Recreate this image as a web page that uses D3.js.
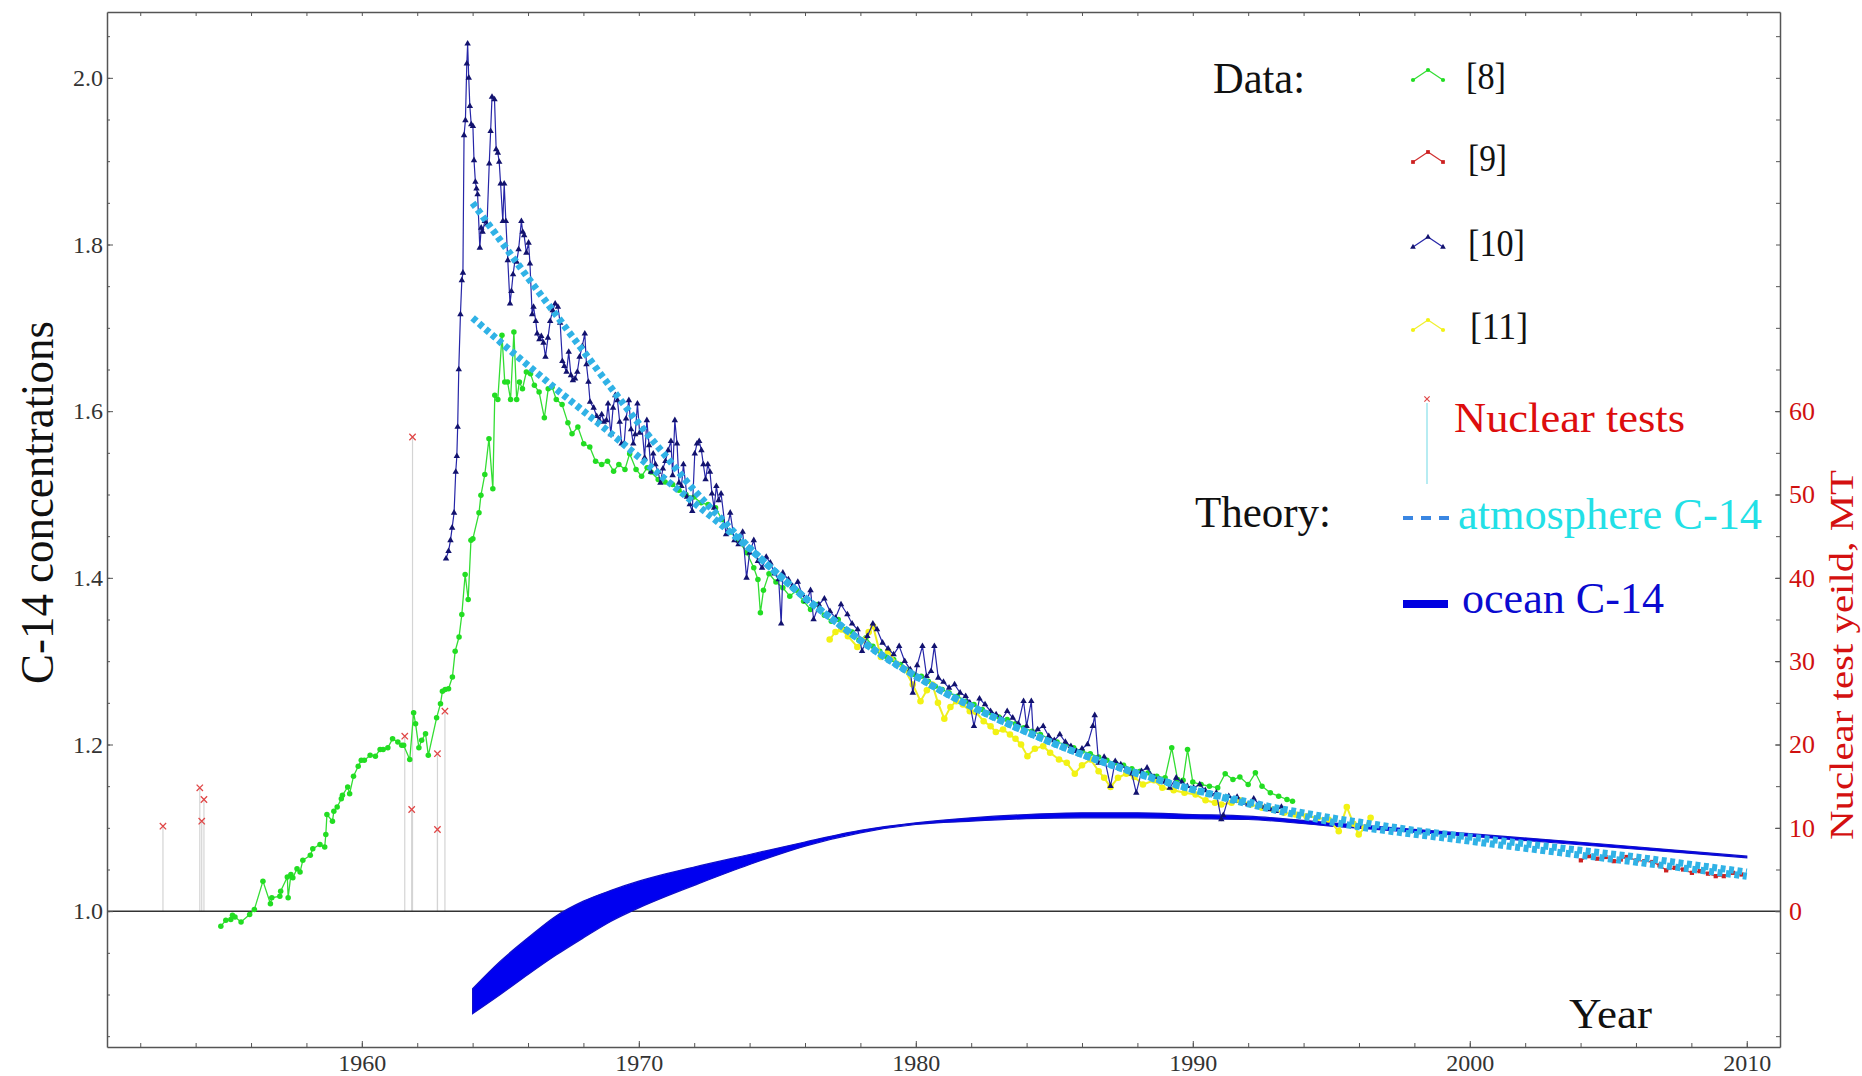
<!DOCTYPE html>
<html>
<head>
<meta charset="utf-8">
<script src="https://cdn.jsdelivr.net/npm/d3@7"></script>
<style>
  body { margin: 0; background: #fff; }
  svg { display: block; font-family: "Liberation Serif", "Times New Roman", serif; }
</style>
</head>
<body>
<div id="chart"></div>
<script>
const WIDTH = 1862, HEIGHT = 1076;
const PLOT = {left: 107, right: 1780, top: 12, bottom: 1047};

// ---- data [8] (green) ----
const greenYears = [1954.91,1955.09,1955.27,1955.33,1955.42,1955.64,1955.95,1956.12,1956.43,1956.70,1956.75,1957.04,1957.07,1957.31,1957.34,1957.44,1957.51,1957.66,1957.77,1957.87,1958.14,1958.23,1958.49,1958.66,1958.70,1958.74,1958.94,1958.99,1959.11,1959.26,1959.30,1959.49,1959.56,1959.70,1959.87,1959.98,1960.09,1960.30,1960.49,1960.66,1960.77,1960.94,1961.11,1961.30,1961.44,1961.51,1961.73,1961.87,1961.94,1962.06,1962.16,1962.30,1962.40,1962.70,1962.84,1962.91,1963.01,1963.13,1963.27,1963.37,1963.51,1963.61,1963.73,1963.84,1963.94,
  1964.01,1964.23,1964.30,1964.44,1964.59,1964.73,1964.80,1964.91,1965.06,1965.16,1965.26,1965.37,1965.49,1965.59,1965.69,1965.80,1965.94,1966.09,1966.23,1966.40,1966.59,1966.73,1966.87,1967.02,1967.23,1967.44,1967.59,1967.80,1968.01,1968.23,1968.44,1968.66,1968.87,1969.09,
  1969.28,1969.50,1969.67,1969.90,1970.10,1970.30,1970.44,1970.70,1970.95,1971.22,1971.45,1971.70,1971.99,1972.25,1972.50,1972.77,1973.00,1973.30,1973.60,1973.90,1974.15,1974.30,1974.39,1974.50,1974.70,1974.95,1975.20,1975.45,1975.70,1975.95,1976.20,1976.45,1976.70,1976.95,1977.20,1977.45,1977.70,1977.95,1978.20,1978.45,1978.70,1978.95,1979.20,1979.45,1979.70,1979.95,1980.20,1980.45,1980.70,1980.95,1981.20,1981.50,1981.80,1982.10,1982.40,1982.70,1983.00,1983.30,1983.60,1983.90,1984.20,1984.50,1984.80,1985.10,1985.40,1985.70,1986.00,1986.30,1986.60,1986.90,1987.20,1987.50,1987.80,1988.10,1988.40,1988.70,1989.00,1989.24,1989.45,1989.65,1989.81,1990.00,1990.30,1990.60,1990.90,1991.17,1991.45,1991.70,1992.00,1992.26,1992.50,1992.80,1993.10,1993.40,1993.60];
const greenValues = [0.982,0.989,0.990,0.995,0.993,0.987,0.996,1.002,1.036,1.009,1.016,1.018,1.024,1.041,1.016,1.044,1.040,1.051,1.047,1.061,1.067,1.075,1.080,1.077,1.092,1.116,1.108,1.120,1.125,1.135,1.139,1.149,1.141,1.162,1.174,1.181,1.181,1.187,1.186,1.194,1.194,1.196,1.207,1.203,1.199,1.199,1.182,1.238,1.225,1.196,1.205,1.213,1.187,1.232,1.249,1.264,1.266,1.267,1.281,1.312,1.329,1.356,1.404,1.374,1.445,
  1.447,1.478,1.499,1.524,1.567,1.507,1.619,1.614,1.691,1.635,1.635,1.614,1.695,1.614,1.635,1.627,1.647,1.645,1.631,1.623,1.592,1.627,1.629,1.614,1.608,1.586,1.573,1.581,1.561,1.557,1.540,1.536,1.540,1.528,
  1.536,1.530,1.549,1.530,1.522,1.532,1.527,1.518,1.515,1.512,1.505,1.500,1.497,1.490,1.488,1.484,1.470,1.455,1.445,1.430,1.412,1.398,1.358,1.385,1.405,1.395,1.388,1.378,1.385,1.372,1.362,1.368,1.355,1.348,1.350,1.338,1.335,1.325,1.328,1.318,1.312,1.305,1.302,1.296,1.290,1.284,1.282,1.276,1.270,1.266,1.262,1.258,1.252,1.248,1.242,1.238,1.233,1.230,1.225,1.220,1.216,1.212,1.207,1.203,1.200,1.196,1.192,1.189,1.185,1.181,1.178,1.175,1.171,1.168,1.166,1.162,1.160,1.196,1.158,1.157,1.194,1.155,1.152,1.150,1.148,1.165,1.158,1.161,1.152,1.166,1.150,1.142,1.138,1.134,1.132];

// ---- data [9] (red) ----
const redYears = [2004.01,2004.30,2004.60,2004.90,2005.20,2005.45,2005.66,2006.02,2006.30,2006.59,2006.85,2007.09,2007.40,2007.70,2008.02,2008.30,2008.60,2008.88,2009.17,2009.50,2009.81];
const redValues = [1.061,1.066,1.063,1.065,1.060,1.062,1.065,1.061,1.060,1.059,1.055,1.049,1.052,1.050,1.046,1.048,1.045,1.042,1.042,1.046,1.044];

// ---- data [10] (blue) ----
const blueYears = [1963.04,1963.13,1963.20,1963.26,1963.33,1963.39,1963.43,1963.46,1963.50,1963.56,1963.61,1963.65,1963.69,1963.74,1963.79,1963.82,1963.86,1963.90,1963.95,1964.01,1964.05,1964.10,1964.14,1964.18,1964.26,1964.31,1964.36,1964.44,1964.52,1964.60,1964.65,1964.70,1964.79,1964.85,1964.91,1964.96,1965.01,1965.09,1965.14,1965.20,1965.27,1965.35,1965.40,1965.46,1965.53,1965.59,1965.66,1965.76,1965.81,1965.86,1965.94,1966.02,1966.07,1966.15,1966.20,1966.28,1966.33,1966.41,1966.48,1966.56,1966.63,1966.72,1966.80,1966.89,1966.98,1967.08,1967.16,1967.24,1967.31,1967.39,1967.47,1967.55,1967.62,1967.70,1967.78,1967.86,1967.96,1968.05,1968.11,1968.18,1968.24,1968.37,1968.48,1968.57,1968.66,1968.74,1968.83,1968.89,1968.99,1969.07,1969.15,1969.23,1969.31,1969.38,1969.47,1969.54,1969.64,1969.72,1969.80,1969.87,1969.95,1970.03,1970.12,1970.21,1970.29,1970.37,1970.44,1970.52,1970.60,1970.70,1970.78,1970.87,1970.96,1971.06,1971.16,1971.22,1971.30,1971.38,1971.45,1971.54,1971.61,1971.74,1971.84,1971.93,1972.02,1972.10,1972.18,1972.26,1972.33,1972.41,1972.49,1972.57,1972.64,1972.72,1972.80,1972.88,1972.97,
  1973.15,1973.30,1973.45,1973.60,1973.75,1973.89,1974.00,1974.15,1974.30,1974.45,1974.60,1974.75,1974.90,1975.05,1975.14,1975.20,1975.40,1975.55,1975.74,1975.90,1976.05,1976.20,1976.31,1976.50,1976.70,1976.90,1977.10,1977.30,1977.53,1977.70,1977.90,1978.06,1978.25,1978.45,1978.60,1978.80,1979.00,1979.20,1979.40,1979.60,1979.80,1979.89,1980.05,1980.24,1980.39,1980.55,1980.67,1980.81,1981.00,1981.20,1981.40,1981.60,1981.80,1981.95,1982.10,1982.30,1982.50,1982.70,1982.90,1983.10,1983.30,1983.50,1983.70,1983.89,1984.00,1984.17,1984.24,1984.40,1984.60,1984.80,1985.00,1985.20,1985.40,1985.60,1985.80,1986.00,1986.20,1986.39,1986.46,1986.60,1986.80,1987.03,1987.20,1987.40,1987.60,1987.80,1987.96,1988.15,1988.35,1988.60,1988.80,1989.00,1989.17,1989.40,1989.60,1989.80,1990.03,1990.25,1990.45,1990.65,1990.85,1991.03,1991.10,1991.30,1991.50,1991.60,1991.80,1992.00,1992.20,1992.40,1992.60,1992.80,1993.00,1993.20];
const blueValues = [1.423,1.432,1.445,1.460,1.478,1.527,1.546,1.581,1.650,1.716,1.757,1.766,1.931,1.949,2.017,2.041,2.000,1.966,1.944,1.942,1.901,1.875,1.867,1.860,1.796,1.820,1.815,1.828,1.824,1.897,1.936,1.977,1.974,1.914,1.910,1.899,1.873,1.828,1.873,1.828,1.781,1.729,1.744,1.764,1.781,1.779,1.794,1.828,1.815,1.811,1.790,1.802,1.777,1.716,1.725,1.708,1.693,1.686,1.690,1.682,1.665,1.688,1.708,1.721,1.729,1.725,1.706,1.660,1.654,1.647,1.671,1.643,1.637,1.639,1.647,1.665,1.678,1.693,1.656,1.635,1.611,1.604,1.594,1.589,1.596,1.587,1.589,1.609,1.572,1.604,1.619,1.613,1.587,1.561,1.561,1.591,1.613,1.578,1.561,1.572,1.609,1.574,1.578,1.544,1.589,1.559,1.527,1.549,1.536,1.527,1.514,1.531,1.540,1.553,1.564,1.523,1.589,1.561,1.514,1.510,1.536,1.497,1.488,1.480,1.549,1.561,1.564,1.553,1.536,1.518,1.536,1.527,1.501,1.484,1.510,1.493,1.501,
  1.452,1.478,1.445,1.440,1.455,1.400,1.430,1.445,1.420,1.412,1.425,1.418,1.405,1.398,1.345,1.406,1.398,1.390,1.395,1.380,1.372,1.385,1.350,1.368,1.375,1.360,1.352,1.368,1.356,1.345,1.338,1.312,1.330,1.345,1.338,1.322,1.315,1.308,1.318,1.300,1.290,1.262,1.295,1.318,1.282,1.288,1.318,1.280,1.275,1.268,1.272,1.262,1.258,1.250,1.222,1.255,1.248,1.240,1.236,1.230,1.240,1.232,1.225,1.252,1.222,1.252,1.212,1.218,1.222,1.210,1.205,1.212,1.203,1.198,1.192,1.195,1.200,1.222,1.235,1.178,1.185,1.150,1.180,1.176,1.170,1.165,1.142,1.168,1.172,1.161,1.158,1.155,1.148,1.160,1.155,1.150,1.148,1.152,1.145,1.140,1.142,1.110,1.115,1.138,1.132,1.137,1.130,1.128,1.135,1.128,1.125,1.122,1.120,1.125];

// ---- data [11] (yellow) ----
const yellowYears = [1976.89,1977.10,1977.31,1977.55,1977.89,1978.10,1978.30,1978.46,1978.74,1979.00,1979.31,1979.60,1979.89,1980.17,1980.40,1980.60,1980.80,1981.03,1981.25,1981.46,1981.70,1981.95,1982.17,1982.45,1982.70,1982.89,1983.15,1983.40,1983.60,1983.80,1984.03,1984.30,1984.60,1984.85,1985.17,1985.45,1985.74,1986.00,1986.31,1986.60,1986.80,1987.03,1987.30,1987.60,1987.89,1988.20,1988.60,1988.90,1989.31,1989.70,1990.10,1990.46,1990.80,1991.03,1991.40,1991.69,1992.10,1992.50,1992.90,1993.30,1993.70,1994.10,1994.50,1994.90,1995.27,1995.56,1995.80,1995.99,1996.20,1996.42];
const yellowValues = [1.326,1.335,1.338,1.330,1.317,1.325,1.335,1.342,1.305,1.312,1.297,1.290,1.272,1.252,1.265,1.272,1.250,1.231,1.245,1.252,1.248,1.240,1.239,1.228,1.222,1.215,1.218,1.212,1.207,1.200,1.186,1.195,1.198,1.190,1.182,1.178,1.165,1.175,1.182,1.168,1.160,1.149,1.160,1.165,1.161,1.152,1.157,1.148,1.145,1.142,1.140,1.133,1.130,1.128,1.130,1.133,1.128,1.124,1.122,1.118,1.116,1.114,1.112,1.110,1.096,1.125,1.105,1.092,1.100,1.112];

// ---- nuclear tests ----
const testYears = [1952.82,1954.15,1954.22,1954.30,1961.55,1961.80,1961.83,1962.73,1962.73,1963.00];
const testYields = [10.2,14.8,10.8,13.4,21.0,12.2,56.9,18.9,9.8,24.0];

// ---- theory: atmosphere C-14 ----
const atmUpYears = [1964,1965,1966,1967,1968,1969,1970,1971,1972,1973,1974,1975,1976,1977,1978,1979,1980,1981,1982,1983,1984,1985,1986,1987,1988,1989,1990,1991,1992,1993,1994,1995,1996,1997,1998,1999,2000,2002,2004,2006,2008,2010];
const atmUpValues = [1.850,1.805,1.760,1.716,1.672,1.628,1.585,1.545,1.505,1.470,1.436,1.405,1.376,1.350,1.325,1.302,1.282,1.263,1.246,1.230,1.215,1.201,1.188,1.176,1.165,1.155,1.146,1.138,1.131,1.124,1.118,1.112,1.107,1.102,1.097,1.093,1.089,1.081,1.073,1.065,1.056,1.047];
const atmLowYears = [1964,1965,1966,1967,1968,1969,1970,1971,1972,1973,1974,1975,1976,1977,1978,1980,1985,1990,1993,1995,2000,2005,2010];
const atmLowValues = [1.712,1.683,1.655,1.627,1.600,1.573,1.545,1.517,1.490,1.463,1.435,1.405,1.376,1.350,1.325,1.282,1.201,1.146,1.121,1.107,1.084,1.063,1.042];

// ---- theory: ocean C-14 band ----
const oceanYears = [1964,1965,1966,1967,1968,1969,1970,1971,1972,1974,1976,1978,1980,1982,1984,1986,1988,1990,1992,1995,2000,2005,2010];
const oceanTop = [0.907,0.940,0.968,0.994,1.012,1.025,1.036,1.045,1.053,1.068,1.083,1.097,1.106,1.112,1.116,1.118,1.118,1.116,1.114,1.106,1.093,1.080,1.066];
const oceanBottom = [0.877,0.900,0.924,0.947,0.968,0.988,1.004,1.018,1.031,1.056,1.078,1.094,1.104,1.108,1.111,1.112,1.112,1.111,1.110,1.102,1.090,1.077,1.064];

const zip = (xs, ys) => xs.map((d, i) => ({year: d, value: ys[i]}));

const svg = d3.select("#chart")
    .append("svg")
        .attr("width", WIDTH)
        .attr("height", HEIGHT);

const x = d3.scaleLinear().domain([1950.8, 2011.2]).range([PLOT.left, PLOT.right]);
const y = d3.scaleLinear().domain([0.837, 2.079]).range([PLOT.bottom, PLOT.top]);
// right axis: 1 MT == 0.01 of concentration, 0 MT on the 1.0 line
const yMT = d3.scaleLinear().domain([(0.837 - 1) * 100, (2.079 - 1) * 100]).range([PLOT.bottom, PLOT.top]);

const plot = svg.append("g");
plot.append("clipPath").attr("id", "clip")
    .append("rect")
        .attr("x", PLOT.left).attr("y", PLOT.top)
        .attr("width", PLOT.right - PLOT.left).attr("height", PLOT.bottom - PLOT.top);
const inner = plot.append("g").attr("clip-path", "url(#clip)");

// nuclear test stems
const tests = zip(testYears, testYields);
inner.selectAll(".stem").data(tests).enter().append("line")
    .attr("x1", d => x(d.year)).attr("x2", d => x(d.year))
    .attr("y1", yMT(0)).attr("y2", d => yMT(d.value))
    .attr("stroke", "#d4d4d4").attr("stroke-width", 1.2);

// 1.0 axis line
inner.append("line")
    .attr("x1", PLOT.left).attr("x2", PLOT.right)
    .attr("y1", y(1)).attr("y2", y(1))
    .attr("stroke", "#333").attr("stroke-width", 1.5);

// ocean band
const oceanArea = d3.area()
    .x(d => x(d.year))
    .y0(d => y(d.lo))
    .y1(d => y(d.hi))
    .curve(d3.curveMonotoneX);
inner.append("path")
    .datum(oceanYears.map((d, i) => ({year: d, hi: oceanTop[i], lo: oceanBottom[i]})))
    .attr("fill", "#0000f0")
    .attr("stroke", "#1010c8")
    .attr("stroke-width", 1.2)
    .attr("d", oceanArea);

const line = d3.line().x(d => x(d.year)).y(d => y(d.value));

function dataSeries(years, values, color, lineColor, symbol, size, width) {
    const pts = zip(years, values);
    inner.append("path").datum(pts)
        .attr("fill", "none").attr("stroke", lineColor).attr("stroke-width", width)
        .attr("d", line);
    inner.selectAll(null).data(pts).enter().append("path")
        .attr("transform", d => `translate(${x(d.year)},${y(d.value)})`)
        .attr("d", d3.symbol(symbol, size))
        .attr("fill", color);
}

dataSeries(greenYears, greenValues, "#22dd22", "#33dd33", d3.symbolCircle, 24, 1.3);
dataSeries(redYears, redValues, "#cc2020", "#d03030", d3.symbolSquare, 18, 1.3);
dataSeries(yellowYears, yellowValues, "#f2f214", "#eeee22", d3.symbolCircle, 34, 2);
dataSeries(blueYears, blueValues, "#12126e", "#2626a8", d3.symbolTriangle, 18, 1.2);

// theory atmosphere (thick dotted)
[zip(atmUpYears, atmUpValues), zip(atmLowYears, atmLowValues)].forEach(pts => {
    inner.append("path").datum(pts)
        .attr("fill", "none")
        .attr("stroke", "#30b2e6")
        .attr("stroke-width", 7)
        .attr("stroke-dasharray", "5 3.5")
        .attr("d", line.curve(d3.curveMonotoneX));
});
line.curve(d3.curveLinear);

// nuclear test markers
inner.selectAll(".test").data(tests).enter().append("path")
    .attr("transform", d => `translate(${x(d.year)},${yMT(d.value)})`)
    .attr("d", d3.symbol(d3.symbolTimes, 28))
    .attr("fill", "none").attr("stroke", "#e04848").attr("stroke-width", 1.3);

// ---- frame and axes ----
const frameColor = "#555";
const leftMajor = [1.0, 1.2, 1.4, 1.6, 1.8, 2.0];
const leftMinor = d3.range(0.85, 2.08, 0.05).map(d => +d.toFixed(2));
const yearMajor = [1960, 1970, 1980, 1990, 2000, 2010];
const yearMinor = d3.range(1952, 2011, 2);
const mtMinor = d3.range(-15, 110, 5);
const mtMajor = [0, 10, 20, 30, 40, 50, 60];

function styleAxis(g, color) {
    g.select(".domain").attr("stroke", frameColor).attr("stroke-width", 1.5);
    g.selectAll(".tick line").attr("stroke", frameColor).attr("stroke-width", 1);
    g.selectAll(".tick text").attr("fill", color).attr("font-family", "Liberation Serif").attr("font-size", 24);
}

svg.append("g").attr("transform", `translate(${PLOT.left},0)`)
    .call(d3.axisLeft(y).tickValues(leftMinor).tickSize(-3).tickSizeOuter(0).tickFormat(""))
    .call(g => styleAxis(g, "#333"));
svg.append("g").attr("transform", `translate(${PLOT.left},0)`)
    .call(d3.axisLeft(y).tickValues(leftMajor).tickSize(-6).tickSizeOuter(0).tickPadding(4).tickFormat(d3.format(".1f")))
    .call(g => styleAxis(g, "#333"))
    .call(g => g.select(".domain").remove());

svg.append("g").attr("transform", `translate(0,${PLOT.bottom})`)
    .call(d3.axisBottom(x).tickValues(yearMinor).tickSize(-4).tickSizeOuter(0).tickFormat(""))
    .call(g => styleAxis(g, "#333"));
svg.append("g").attr("transform", `translate(0,${PLOT.bottom})`)
    .call(d3.axisBottom(x).tickValues(yearMajor).tickSize(-6).tickSizeOuter(0).tickPadding(7).tickFormat(d3.format("d")))
    .call(g => styleAxis(g, "#333"))
    .call(g => g.select(".domain").remove());

svg.append("g").attr("transform", `translate(0,${PLOT.top})`)
    .call(d3.axisTop(x).tickValues(yearMinor).tickSize(-4).tickSizeOuter(0).tickFormat(""))
    .call(g => styleAxis(g, "#333"));

svg.append("g").attr("transform", `translate(${PLOT.right},0)`)
    .call(d3.axisRight(yMT).tickValues(mtMinor).tickSize(-4).tickSizeOuter(0).tickFormat(""))
    .call(g => styleAxis(g, "#d01010"));
svg.append("g").attr("transform", `translate(${PLOT.right},0)`)
    .call(d3.axisRight(yMT).tickValues(mtMajor).tickSize(-5).tickSizeOuter(0).tickPadding(9).tickFormat(d3.format("d")))
    .call(g => styleAxis(g, "#d01010"))
    .call(g => g.select(".domain").remove())
    .call(g => g.selectAll(".tick text").attr("font-size", 26));

// axis titles
function label(txt, px, py, size, len, color, rotate) {
    const t = svg.append("text")
        .attr("x", px).attr("y", py)
        .attr("font-size", size)
        .attr("fill", color)
        .attr("textLength", len)
        .attr("lengthAdjust", "spacingAndGlyphs")
        .text(txt);
    if (rotate) t.attr("transform", `rotate(-90, ${px}, ${py})`);
    return t;
}
label("C-14 concentrations", 53, 684, 46, 363, "#111", true);
label("Nuclear test yeild, MT", 1853, 840, 34, 370, "#d41010", true);
label("Year", 1569, 1028, 42, 83, "#111");

// ---- legend ----
label("Data:", 1213, 93, 44, 92, "#111");
const legendRows = [
    {name: "[8]", color: "#22dd22", line: "#33dd33", symbol: d3.symbolCircle, ty: 89, tx: 1466, len: 40},
    {name: "[9]", color: "#cc2020", line: "#d03030", symbol: d3.symbolSquare, ty: 171, tx: 1468, len: 39},
    {name: "[10]", color: "#12126e", line: "#2626a8", symbol: d3.symbolTriangle, ty: 256, tx: 1468, len: 57},
    {name: "[11]", color: "#f2f214", line: "#f0f030", symbol: d3.symbolCircle, ty: 339, tx: 1470, len: 58}
];
legendRows.forEach(r => {
    const base = r.ty - 9, pts = [[1413, base], [1428, base - 10], [1443, base]];
    svg.append("path").attr("d", d3.line()(pts))
        .attr("fill", "none").attr("stroke", r.line).attr("stroke-width", 1.2);
    pts.forEach(p => svg.append("path")
        .attr("transform", `translate(${p[0]},${p[1]})`)
        .attr("d", d3.symbol(r.symbol, 14)).attr("fill", r.color));
    label(r.name, r.tx, r.ty, 38, r.len, "#111");
});

svg.append("line").attr("x1", 1427).attr("x2", 1427).attr("y1", 403).attr("y2", 484)
    .attr("stroke", "#9fe6ee").attr("stroke-width", 1.5);
svg.append("path").attr("transform", "translate(1427,399)")
    .attr("d", d3.symbol(d3.symbolTimes, 20))
    .attr("fill", "none").attr("stroke", "#e04848").attr("stroke-width", 1.2);
label("Nuclear tests", 1454, 432, 43, 231, "#dd0d0d");

label("Theory:", 1195, 527, 44, 136, "#111");
svg.append("line").attr("x1", 1403).attr("x2", 1449).attr("y1", 518).attr("y2", 518)
    .attr("stroke", "#3a86e2").attr("stroke-width", 4).attr("stroke-dasharray", "10 8");
label("atmosphere C-14", 1458, 529, 44, 304, "#22e0e6");

svg.append("line").attr("x1", 1403).attr("x2", 1448).attr("y1", 604).attr("y2", 604)
    .attr("stroke", "#0000e0").attr("stroke-width", 8);
label("ocean C-14", 1462, 613, 44, 202, "#0a0ad0");
</script>
</body>
</html>
